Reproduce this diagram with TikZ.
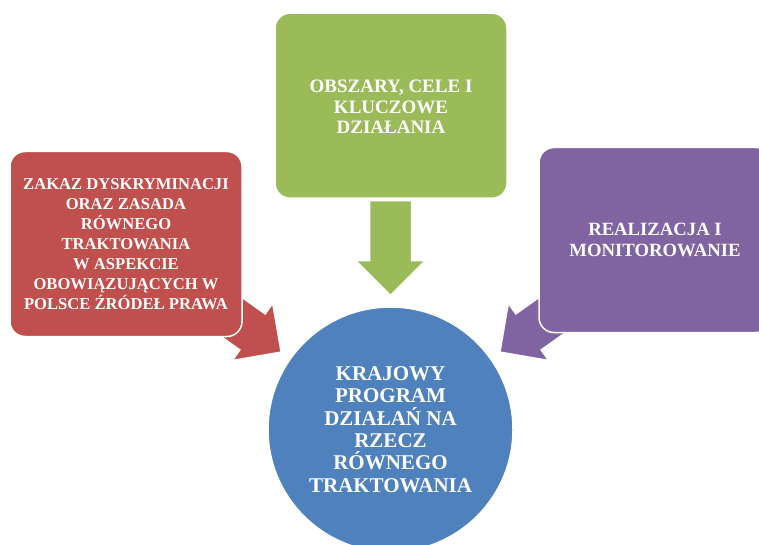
\documentclass[tikz,border=0pt]{standalone}
\usepackage{fontspec}
\setmainfont{Liberation Serif}
\definecolor{cred}{HTML}{C0504D}
\definecolor{cgreen}{HTML}{9BBB59}
\definecolor{cpurple}{HTML}{8064A2}
\definecolor{cblue}{HTML}{4F81BD}
\begin{document}
\begin{tikzpicture}[x=1pt,y=-1pt,
  box/.style={rounded corners=15pt, draw=white, line width=1.5pt,
    minimum width=232pt, minimum height=185pt, inner sep=0pt,
    text=white, align=center},
  blockarrow/.style={draw=white, line width=1.5pt, line join=miter},
  hub/.style={circle, draw=white, line width=1.5pt, fill=cblue,
    minimum size=245pt, inner sep=0pt, text=white, align=center,
    font=\bfseries\fontsize{21}{22.3}\selectfont}]
\useasboundingbox (0,0) rectangle (759,545);
\clip (0,0) rectangle (759,545);

% arrows (drawn first, boxes cover their tails)
\fill[cgreen, blockarrow] (369.5,200.7) -- (411.5,200.7) -- (411.5,260.5) -- (425.5,260.5)
  -- (390.5,295.5) -- (355.5,260.5) -- (369.5,260.5) -- cycle;
\fill[cred, blockarrow] (211.4,275.7) -- (265.2,313.9) -- (272.7,303.3) -- (281.1,352.1)
  -- (232.3,360.5) -- (239.8,349.9) -- (186.0,311.7) -- cycle;
\fill[cpurple, blockarrow] (569.6,275.7) -- (515.8,313.9) -- (508.3,303.3) -- (499.9,352.1)
  -- (548.7,360.5) -- (541.2,349.9) -- (595.0,311.7) -- cycle;

\node[box, fill=cgreen, font=\bfseries\fontsize{19}{20.3}\selectfont] (green) at (391,105.7)
  {\raisebox{-3.5pt}[\height][\depth]{\begin{tabular}{@{}c@{}}OBSZARY, CELE I\\KLUCZOWE\\DZIAŁANIA\end{tabular}}};
\node[box, fill=cred, font=\bfseries\fontsize{16.6}{19.9}\selectfont] (red) at (126,244)
  {ZAKAZ DYSKRYMINACJI\\ORAZ ZASADA\\RÓWNEGO\\TRAKTOWANIA\\W ASPEKCIE\\OBOWIĄZUJĄCYCH W\\POLSCE ŹRÓDEŁ PRAWA};
\node[box, fill=cpurple, font=\bfseries\fontsize{18.7}{21}\selectfont] (purple) at (655,240)
  {REALIZACJA I\\MONITOROWANIE};

\node[hub] (hub) at (390.5,429.5)
  {KRAJOWY\\PROGRAM\\DZIAŁAŃ NA\\RZECZ\\RÓWNEGO\\TRAKTOWANIA};
\end{tikzpicture}
\end{document}
